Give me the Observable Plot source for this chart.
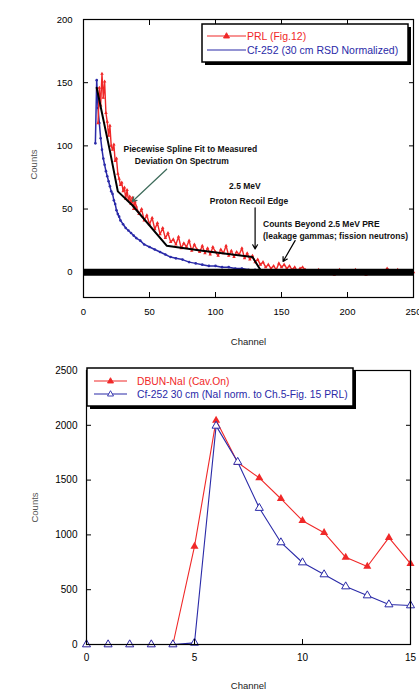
<!DOCTYPE html>
<html><head><meta charset="utf-8">
<script src="https://cdn.jsdelivr.net/npm/d3@7"></script>
<script src="https://cdn.jsdelivr.net/npm/@observablehq/plot@0.6"></script>
<style>
body{margin:0;background:#fff;font-family:"Liberation Sans",Arial,sans-serif;}
#wrap{position:relative;width:419px;height:690px;overflow:hidden;background:#fff;}
.panel{position:absolute;left:0;}
.leg{position:absolute;}
</style></head>
<body><div id="wrap"></div>
<script>
// ---------- Top chart data ----------
const prlChannel = [11,12,13,14,15,16,17,18,19,20,21,22,23,24,25,26,27,28,29,30,31,32,33,34,35,36,37,38,39,40,
  42,44,46,48,50,52,54,56,58,60,62,64,66,68,70,72,74,76,78,80,82,84,86,88,90,92,94,96,98,100,102,104,106,108,110,112,114,116,118,120,122,124,126,128,130,
  132,134,136,138,140,142,144,146,148,150,152,154,156,158,160,162,164,166,168,170,
  174,178,182,186,190,194,198,202,206,210,214,218,222,226,230,234,238,242,246,250];
const prlCounts  = [118,146,132,157,138,151,126,119,108,116,100,97,101,88,90,78,74,69,71,64,67,58,65,57,60,54,59,50,56,52,
  46,50,41,45,38,43,34,39,30,35,27,31,24,26,22,28,19,23,20,25,17,22,18,16,21,15,19,14,20,16,13,18,15,21,13,17,12,16,14,19,11,15,10,13,8,
  10,6,8,4,6,3,5,2,7,4,6,3,5,2,4,1,3,4,2,1,
  0,2,-1,1,-2,2,0,-1,2,0,-2,1,0,-1,3,0,2,-1,1,0];
const cfChannel = [9,10,11,12,13,14,15,16,17,18,19,20,21,22,23,24,25,26,27,28,30,32,34,36,38,40,43,46,50,54,58,62,66,70,75,80,85,90,95,100,105,110,115,120,125,130];
const cfCounts  = [102,152,130,118,106,97,90,85,80,76,72,68,64,62,57,54,49,46,44,41,38,35,33,31,29,27,25,22,20,18,16,14,12,11,10,8,7,6,5,5,4,4,3,3,2,2];
const fitChannel = [10,20,26,37,63,90,128,134];
const fitCounts  = [146,96,64,53,21,17,12,2];
const topXTicks = [0,50,100,150,200,250];
const topYTicks = [0,50,100,150,200];

// annotations (data units)
const noteCenterText = ["Piecewise Spline Fit to Measured","Deviation On Spectrum","2.5 MeV","Proton Recoil Edge"];
const noteCenterX = [81,74.5,122.3,125.4];
const noteCenterY = [97,88,68,56.4];
const noteStartText = ["Counts Beyond 2.5 MeV PRE","(leakage gammas; fission neutrons)"];
const noteStartX = [136,136];
const noteStartY = [38,28.5];
const arrowX1 = [63,130,160.3], arrowY1 = [81.5,51,25];
const arrowX2 = [37,130,151.2], arrowY2 = [56,18.4,8.5];
const arrowColor = ["#3d6b5a","#000000","#000000"];

// ---------- Bottom chart data ----------
const naiChannel = [0,1,2,3,4,5,6,7,8,9,10,11,12,13,14,15];
const dbunCounts = [0,0,0,0,0,895,2045,1660,1520,1330,1130,1020,795,712,975,738];
const cfNaiCounts = [0,0,0,0,0,15,1995,1665,1245,931,748,639,529,447,365,356];
const botXTicks = [0,5,10,15];
const botYTicks = [0,500,1000,1500,2000,2500];

const RED = "#f02828", BLUE = "#2a2aa8";
const FONT = "Liberation Sans, Arial, sans-serif";

const prl = prlChannel.map((c,i)=>({c, v: prlCounts[i]}));
const cf = cfChannel.map((c,i)=>({c, v: cfCounts[i]}));
const fit = fitChannel.map((c,i)=>({c, v: fitCounts[i]}));
const notesC = noteCenterText.map((t,i)=>({t, x: noteCenterX[i], y: noteCenterY[i]}));
const notesS = noteStartText.map((t,i)=>({t, x: noteStartX[i], y: noteStartY[i]}));
const arrows = arrowX1.map((x1,i)=>({x1, y1: arrowY1[i], x2: arrowX2[i], y2: arrowY2[i], col: arrowColor[i]}));

function inwardTicks(xInner, yInner) {
  const empty = () => "";
  return [
    Plot.axisX(xInner, {anchor:"bottom", tickSize:5, dy:-5, tickFormat: empty, label:null, stroke:"#000"}),
    Plot.axisX(xInner, {anchor:"top", tickSize:5, dy:5, tickFormat: empty, label:null, stroke:"#000"}),
    Plot.axisY(yInner, {anchor:"left", tickSize:5, dx:5, tickFormat: empty, label:null, stroke:"#000"}),
    Plot.axisY(yInner, {anchor:"right", tickSize:5, dx:-5, tickFormat: empty, label:null, stroke:"#000"})
  ];
}
const plain = d3.format("d");

const topChart = Plot.plot({
  width: 419, height: 350,
  marginLeft: 83, marginRight: 6, marginTop: 19, marginBottom: 53,
  style: {fontFamily: FONT, background: "transparent"},
  x: {domain: [0,250]},
  y: {domain: [-20,200]},
  color: {type: "identity"},
  marks: [
    Plot.line(cf, {x:"c", y:"v", stroke: BLUE, strokeWidth: 1.5}),
    Plot.dot(cf, {x:"c", y:"v", fill: BLUE, r: 1.3, symbol: "circle"}),
    Plot.line(prl, {x:"c", y:"v", stroke: RED, strokeWidth: 1.4}),
    Plot.dot(prl, {x:"c", y:"v", fill: RED, r: 1.3, symbol: "triangle"}),
    Plot.line(fit, {x:"c", y:"v", stroke: "#000", strokeWidth: 2}),
    Plot.ruleY([0], {stroke: "#000", strokeWidth: 7}),
    Plot.text(notesC, {x:"x", y:"y", text:"t", fontSize: 8.5, fontWeight: "bold", fill:"#111", textAnchor:"middle"}),
    Plot.text(notesS, {x:"x", y:"y", text:"t", fontSize: 8.5, fontWeight: "bold", fill:"#111", textAnchor:"start"}),
    Plot.arrow(arrows, {x1:"x1", y1:"y1", x2:"x2", y2:"y2", stroke:"col", strokeWidth: 1.2, headLength: 6}),
    Plot.frame({stroke:"#000", strokeWidth: 1.2}),
    ...inwardTicks([50,100,150,200], [50,100,150]),
    Plot.axisX(topXTicks, {anchor:"bottom", tickSize:0, tickPadding: 11, fontSize: 9.5, label: null}),
    Plot.axisY(topYTicks, {anchor:"left", tickSize:0, tickPadding: 11, fontSize: 9.5, label: null}),
    Plot.text(["Channel"], {frameAnchor:"bottom", dy: 44, lineAnchor:"middle", textAnchor:"middle", fontSize: 9.5, fill:"#222"}),
    Plot.text(["Counts"], {frameAnchor:"left", dx: -50, dy: 6, rotate: -90, textAnchor:"middle", lineAnchor:"middle", fontSize: 9.5, fill:"#555"})
  ]
});

const nai = naiChannel.map((c,i)=>({c, red: dbunCounts[i], blue: cfNaiCounts[i]}));

const bottomChart = Plot.plot({
  width: 419, height: 340,
  marginLeft: 86, marginRight: 9, marginTop: 20, marginBottom: 46,
  style: {fontFamily: FONT, background: "transparent"},
  x: {domain: [0,15]},
  y: {domain: [0,2500]},
  marks: [
    Plot.line(nai, {x:"c", y:"red", stroke: RED, strokeWidth: 1.1}),
    Plot.dot(nai, {x:"c", y:"red", fill: RED, r: 3, symbol: "triangle"}),
    Plot.line(nai, {x:"c", y:"blue", stroke: BLUE, strokeWidth: 1.1}),
    Plot.dot(nai, {x:"c", y:"blue", fill: "white", stroke: BLUE, strokeWidth: 1, r: 3, symbol: "triangle"}),
    Plot.frame({stroke:"#000", strokeWidth: 1.2}),
    ...inwardTicks([5,10], [500,1000,1500,2000]),
    Plot.axisX(botXTicks, {anchor:"bottom", tickSize:0, tickPadding: 9, fontSize: 10, label: null, tickFormat: plain}),
    Plot.axisY(botYTicks, {anchor:"left", tickSize:0, tickPadding: 9, fontSize: 10, label: null, tickFormat: plain}),
    Plot.text(["Channel"], {frameAnchor:"bottom", dy: 41, lineAnchor:"middle", textAnchor:"middle", fontSize: 9.5, fill:"#222"}),
    Plot.text(["Counts"], {frameAnchor:"left", dx: -52, rotate: -90, textAnchor:"middle", lineAnchor:"middle", fontSize: 9.5, fill:"#555"})
  ]
});

const wrap = document.getElementById("wrap");
const p1 = document.createElement("div"); p1.className = "panel"; p1.style.top = "0px"; p1.appendChild(topChart);
const p2 = document.createElement("div"); p2.className = "panel"; p2.style.top = "350px"; p2.appendChild(bottomChart);
wrap.appendChild(p1); wrap.appendChild(p2);

// legends
const legendTop = [{label:"PRL (Fig.12)", color: RED, marker:"filled"}, {label:"Cf-252 (30 cm RSD Normalized)", color: BLUE, marker:"none"}];
const legendBot = [{label:"DBUN-NaI (Cav.On)", color: RED, marker:"filled"}, {label:"Cf-252 30 cm (NaI norm. to Ch.5-Fig. 15 PRL)", color: BLUE, marker:"open"}];

function makeLegend(items, left, topPx, w, h, rowY, lineX1, lineX2, textX, fs) {
  const ns = "http://www.w3.org/2000/svg";
  const svg = document.createElementNS(ns, "svg");
  svg.setAttribute("width", w + 6); svg.setAttribute("height", h + 6);
  svg.setAttribute("class", "leg");
  svg.style.left = left + "px"; svg.style.top = topPx + "px"; svg.style.position = "absolute";
  const sh = document.createElementNS(ns, "rect");
  sh.setAttribute("x", 4); sh.setAttribute("y", 4); sh.setAttribute("width", w); sh.setAttribute("height", h); sh.setAttribute("fill", "#000");
  svg.appendChild(sh);
  const bx = document.createElementNS(ns, "rect");
  bx.setAttribute("x", 1); bx.setAttribute("y", 1); bx.setAttribute("width", w); bx.setAttribute("height", h);
  bx.setAttribute("fill", "#fff"); bx.setAttribute("stroke", "#000"); bx.setAttribute("stroke-width", 1.5);
  svg.appendChild(bx);
  items.forEach((it, i) => {
    const y = rowY[i];
    const ln = document.createElementNS(ns, "line");
    ln.setAttribute("x1", lineX1); ln.setAttribute("x2", lineX2); ln.setAttribute("y1", y); ln.setAttribute("y2", y);
    ln.setAttribute("stroke", it.color); ln.setAttribute("stroke-width", 1.2);
    svg.appendChild(ln);
    if (it.marker !== "none") {
      const mx = (lineX1 + lineX2) / 2;
      const tri = document.createElementNS(ns, "path");
      tri.setAttribute("d", `M${mx},${y-3.3}L${mx+3},${y+2}L${mx-3},${y+2}Z`);
      tri.setAttribute("fill", it.marker === "filled" ? it.color : "#fff");
      tri.setAttribute("stroke", it.color); tri.setAttribute("stroke-width", 0.9);
      svg.appendChild(tri);
    }
    const tx = document.createElementNS(ns, "text");
    tx.setAttribute("x", textX); tx.setAttribute("y", y); tx.setAttribute("dy", "0.35em");
    tx.setAttribute("fill", it.color); tx.setAttribute("font-size", fs); tx.setAttribute("font-family", FONT);
    tx.textContent = it.label;
    svg.appendChild(tx);
  });
  wrap.appendChild(svg);
}
makeLegend(legendTop, 201, 23, 206, 38, [13, 27], 6, 45, 46, 10.5);
makeLegend(legendBot, 86, 367, 266, 38, [14, 27], 8, 41, 51, 10.3);
</script>
</body></html>
